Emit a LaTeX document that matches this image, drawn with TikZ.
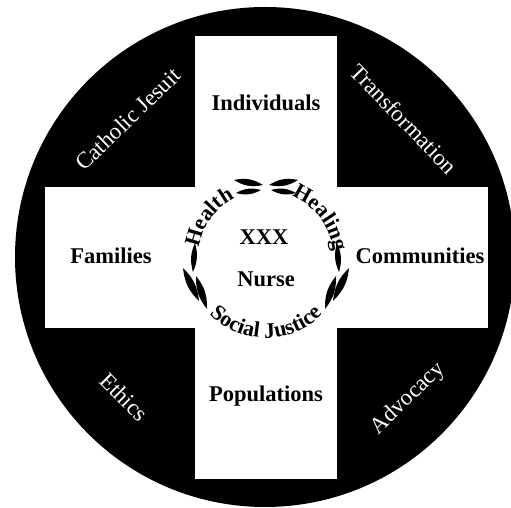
\documentclass[tikz,border=0pt]{standalone}
\usepackage{fontspec}
\setmainfont{Liberation Serif}
\usetikzlibrary{decorations.text}
\newcommand\ringfont{\fontsize{22}{22}\selectfont\bfseries}
\newcommand\drawleaf[3]{\fill[black] (#1) to[bend left=#3] (#2) to[bend left=#3] (#1);}
\begin{document}
\begin{tikzpicture}[x=1pt,y=1pt,
  lab/.style={font=\fontsize{22.5}{24}\selectfont\bfseries, inner sep=0pt, anchor=base},
  wlab/.style={font=\fontsize{23}{24}\selectfont, text=white, inner sep=0pt},
  ringtext/.style={decorate, decoration={text along path, text align=center, text={#1}}}]
\useasboundingbox (0,0) rectangle (511,508);
% disc and cross
\fill[black] (265,251) circle[radius=250pt];
\fill[white] (195,29) rectangle (337,472);
\fill[white] (45,180) rectangle (488,321);
% arm labels
\node[lab] (ind) at (266,397) {Individuals};
\node[lab] (fam) at (111,244) {Families};
\node[lab] (com) at (420,244) {Communities};
\node[lab] (pop) at (266,106) {Populations};
\node[lab] (xxx) at (264,263) {XXX};
\node[lab] (nur) at (266,221) {Nurse};
% corner labels
\node[wlab, rotate=44] (cat) at (128,389) {Catholic Jesuit};
\node[wlab, rotate=-46] (tra) at (404,389) {Transformation};
\node[wlab, rotate=-45] (eth) at (124,111) {Ethics};
\node[wlab, rotate=44] (adv) at (408,109) {Advocacy};
% ring
\coordinate (ring) at (266,249);
\path[ringtext={|\ringfont|Health}] ([shift={(190:68pt)}]ring) arc[start angle=190, end angle=98, radius=68pt];
\path[ringtext={|\ringfont|Healing}] ([shift={(82:68pt)}]ring) arc[start angle=82, end angle=-8, radius=68pt];
\path[ringtext={|\ringfont|Social Justice}] ([shift={(195:79pt)}]ring) arc[start angle=195, end angle=345, radius=79pt];
% leaves
\drawleaf{263,323}{234,328}{22}
\drawleaf{261,318}{236,315}{22}
\drawleaf{269,323}{298,328}{22}
\drawleaf{271,318}{296,315}{22}
\drawleaf{193,236}{195,265}{20}
\drawleaf{183,240}{199,207}{20}
\drawleaf{196,232}{207,199}{20}
\drawleaf{339,236}{337,265}{20}
\drawleaf{349,240}{333,207}{20}
\drawleaf{336,232}{325,199}{20}
\end{tikzpicture}
\end{document}
